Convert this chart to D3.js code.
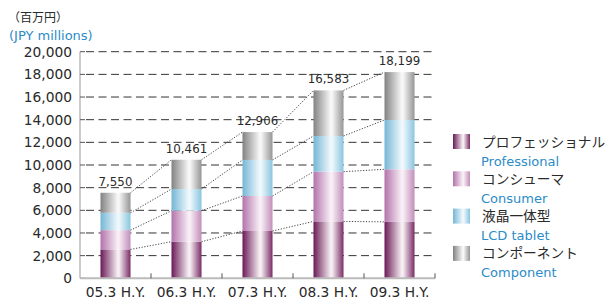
<!DOCTYPE html>
<html>
  <head>
    <meta charset="utf-8">
    <title>Sales by segment</title>
    <script src="https://d3js.org/d3.v7.min.js"></script>
    <style>
      body { margin: 0; background: #fff; }
      text { font-family: "DejaVu Sans", sans-serif; fill: #2a2a2a; }
      .tick-label { font-size: 13.8px; }
      .value-label { font-size: 11.8px; }
      .blue { fill: #2b8cc8; }
      .jp { font-family: "Noto Sans CJK JP", sans-serif; }
    </style>
  </head>
  <body>
    <svg width="607" height="300"></svg>
    <script>
      const periods = ["05.3 H.Y.", "06.3 H.Y.", "07.3 H.Y.", "08.3 H.Y.", "09.3 H.Y."];
      const professional = [2550, 3230, 4175, 5020, 4980];
      const consumer = [1700, 2735, 3090, 4390, 4640];
      const lcdTablet = [1530, 1915, 3180, 3150, 4350];
      const component = [1770, 2581, 2461, 4023, 4229];
      const yTicks = [0, 2000, 4000, 6000, 8000, 10000, 12000, 14000, 16000, 18000, 20000];

      const seriesNames = [
        { key: "professional", jp: "プロフェッショナル", en: "Professional", edge: "#6a1a56", edge2: "#7a2c66", mid: "#f6eef3" },
        { key: "consumer", jp: "コンシューマ", en: "Consumer", edge: "#b273aa", edge2: "#c18eb9", mid: "#f8eef6" },
        { key: "lcd", jp: "液晶一体型", en: "LCD tablet", edge: "#75b6d5", edge2: "#8ac4de", mid: "#eef8fc" },
        { key: "component", jp: "コンポーネント", en: "Component", edge: "#828282", edge2: "#959595", mid: "#f7f7f7" }
      ];

      const table = periods.map((p, i) => ({
        period: p,
        professional: professional[i],
        consumer: consumer[i],
        lcd: lcdTablet[i],
        component: component[i]
      }));

      const svg = d3.select("svg");
      const plotLeft = 80, plotRight = 435, plotTop = 51.7, plotBottom = 278.3;

      const x = d3.scaleBand()
        .domain(periods)
        .range([plotLeft, plotRight])
        .paddingInner(0.577)
        .paddingOuter(0.2885);
      const y = d3.scaleLinear().domain([0, 20000]).range([plotBottom, plotTop]);

      // gradients
      const defs = svg.append("defs");
      seriesNames.forEach(s => {
        const g = defs.append("linearGradient")
          .attr("id", "grad-" + s.key)
          .attr("x1", 0).attr("x2", 1).attr("y1", 0).attr("y2", 0);
        g.append("stop").attr("offset", "0%").attr("stop-color", s.edge);
        g.append("stop").attr("offset", "57%").attr("stop-color", s.mid);
        g.append("stop").attr("offset", "62%").attr("stop-color", s.mid);
        g.append("stop").attr("offset", "100%").attr("stop-color", s.edge2);
      });

      // grid
      svg.append("g")
        .selectAll("line")
        .data(yTicks.filter(d => d > 0))
        .join("line")
          .attr("x1", plotLeft + 6)
          .attr("x2", plotRight - 2)
          .attr("y1", d => y(d))
          .attr("y2", d => y(d))
          .attr("stroke", "#333")
          .attr("stroke-width", 1)
          .attr("stroke-dasharray", "8,4.5");

      // y axis
      const yAxis = svg.append("g");
      yAxis.append("line")
        .attr("x1", plotLeft).attr("x2", plotLeft)
        .attr("y1", y(20000)).attr("y2", plotBottom)
        .attr("stroke", "#999");
      yAxis.selectAll(".yt")
        .data(yTicks)
        .join("line")
          .attr("class", "yt")
          .attr("x1", plotLeft).attr("x2", plotLeft + 5)
          .attr("y1", d => y(d)).attr("y2", d => y(d))
          .attr("stroke", "#555");
      yAxis.selectAll("text")
        .data(yTicks)
        .join("text")
          .attr("class", "tick-label")
          .attr("x", plotLeft - 8)
          .attr("y", d => y(d))
          .attr("dy", "0.36em")
          .attr("text-anchor", "end")
          .text(d => d3.format(",")(d));

      // stacked bars
      const stack = d3.stack().keys(seriesNames.map(s => s.key));
      const stacked = stack(table);

      svg.append("g")
        .selectAll("g")
        .data(stacked)
        .join("g")
          .attr("fill", d => `url(#grad-${d.key})`)
        .selectAll("rect")
        .data(d => d)
        .join("rect")
          .attr("x", d => x(d.data.period))
          .attr("width", x.bandwidth())
          .attr("y", d => y(d[1]))
          .attr("height", d => y(d[0]) - y(d[1]));

      // dotted connectors
      const links = [];
      stacked.forEach(layer => {
        for (let i = 0; i < layer.length - 1; i++) {
          links.push({ a: layer[i], b: layer[i + 1] });
        }
      });
      svg.append("g")
        .selectAll("line")
        .data(links)
        .join("line")
          .attr("x1", d => x(d.a.data.period) + x.bandwidth())
          .attr("y1", d => y(d.a[1]))
          .attr("x2", d => x(d.b.data.period))
          .attr("y2", d => y(d.b[1]))
          .attr("stroke", "#444")
          .attr("stroke-width", 1)
          .attr("stroke-dasharray", "1.2,1.6");

      // totals
      const total = d => d.professional + d.consumer + d.lcd + d.component;
      svg.append("g")
        .selectAll("text")
        .data(table)
        .join("text")
          .attr("class", "value-label")
          .attr("x", d => x(d.period) + x.bandwidth() / 2)
          .attr("y", d => y(total(d)) - 7)
          .attr("text-anchor", "middle")
          .text(d => d3.format(",")(total(d)));

      // x axis
      const xAxis = svg.append("g");
      xAxis.append("line")
        .attr("x1", plotLeft).attr("x2", plotRight)
        .attr("y1", plotBottom).attr("y2", plotBottom)
        .attr("stroke", "#bbb")
        .attr("stroke-width", 2);
      xAxis.selectAll(".xt")
        .data(periods)
        .join("line")
          .attr("class", "xt")
          .attr("x1", d => x(d) + x.bandwidth() + x.step() * 0.577 / 2)
          .attr("x2", d => x(d) + x.bandwidth() + x.step() * 0.577 / 2)
          .attr("y1", plotBottom)
          .attr("y2", plotBottom - 5)
          .attr("stroke", "#555");
      xAxis.selectAll("text")
        .data(periods)
        .join("text")
          .attr("class", "tick-label")
          .attr("x", d => x(d) + x.bandwidth() / 2)
          .attr("y", 297)
          .attr("text-anchor", "middle")
          .text(d => d);

      // unit labels
      svg.append("text")
        .attr("class", "jp")
        .attr("x", 8)
        .attr("y", 21.5)
        .style("font-size", "12px")
        .text("（百万円）");
      svg.append("text")
        .attr("class", "blue")
        .attr("x", 9)
        .attr("y", 39.5)
        .style("font-size", "13px")
        .text("(JPY millions)");

      // legend
      const legend = svg.append("g")
        .attr("transform", "translate(453, 134)");
      const items = legend.selectAll("g")
        .data(seriesNames)
        .join("g")
          .attr("transform", (d, i) => `translate(0, ${i * 37.3})`);
      items.append("rect")
        .attr("width", 17)
        .attr("height", 15)
        .attr("fill", d => `url(#grad-${d.key})`);
      items.append("text")
        .attr("class", "jp")
        .attr("x", 29)
        .attr("y", 12.5)
        .style("font-size", "13.7px")
        .text(d => d.jp);
      items.append("text")
        .attr("class", "blue")
        .attr("x", 28)
        .attr("y", 31.5)
        .style("font-size", "13px")
        .text(d => d.en);
    </script>
  </body>
</html>
